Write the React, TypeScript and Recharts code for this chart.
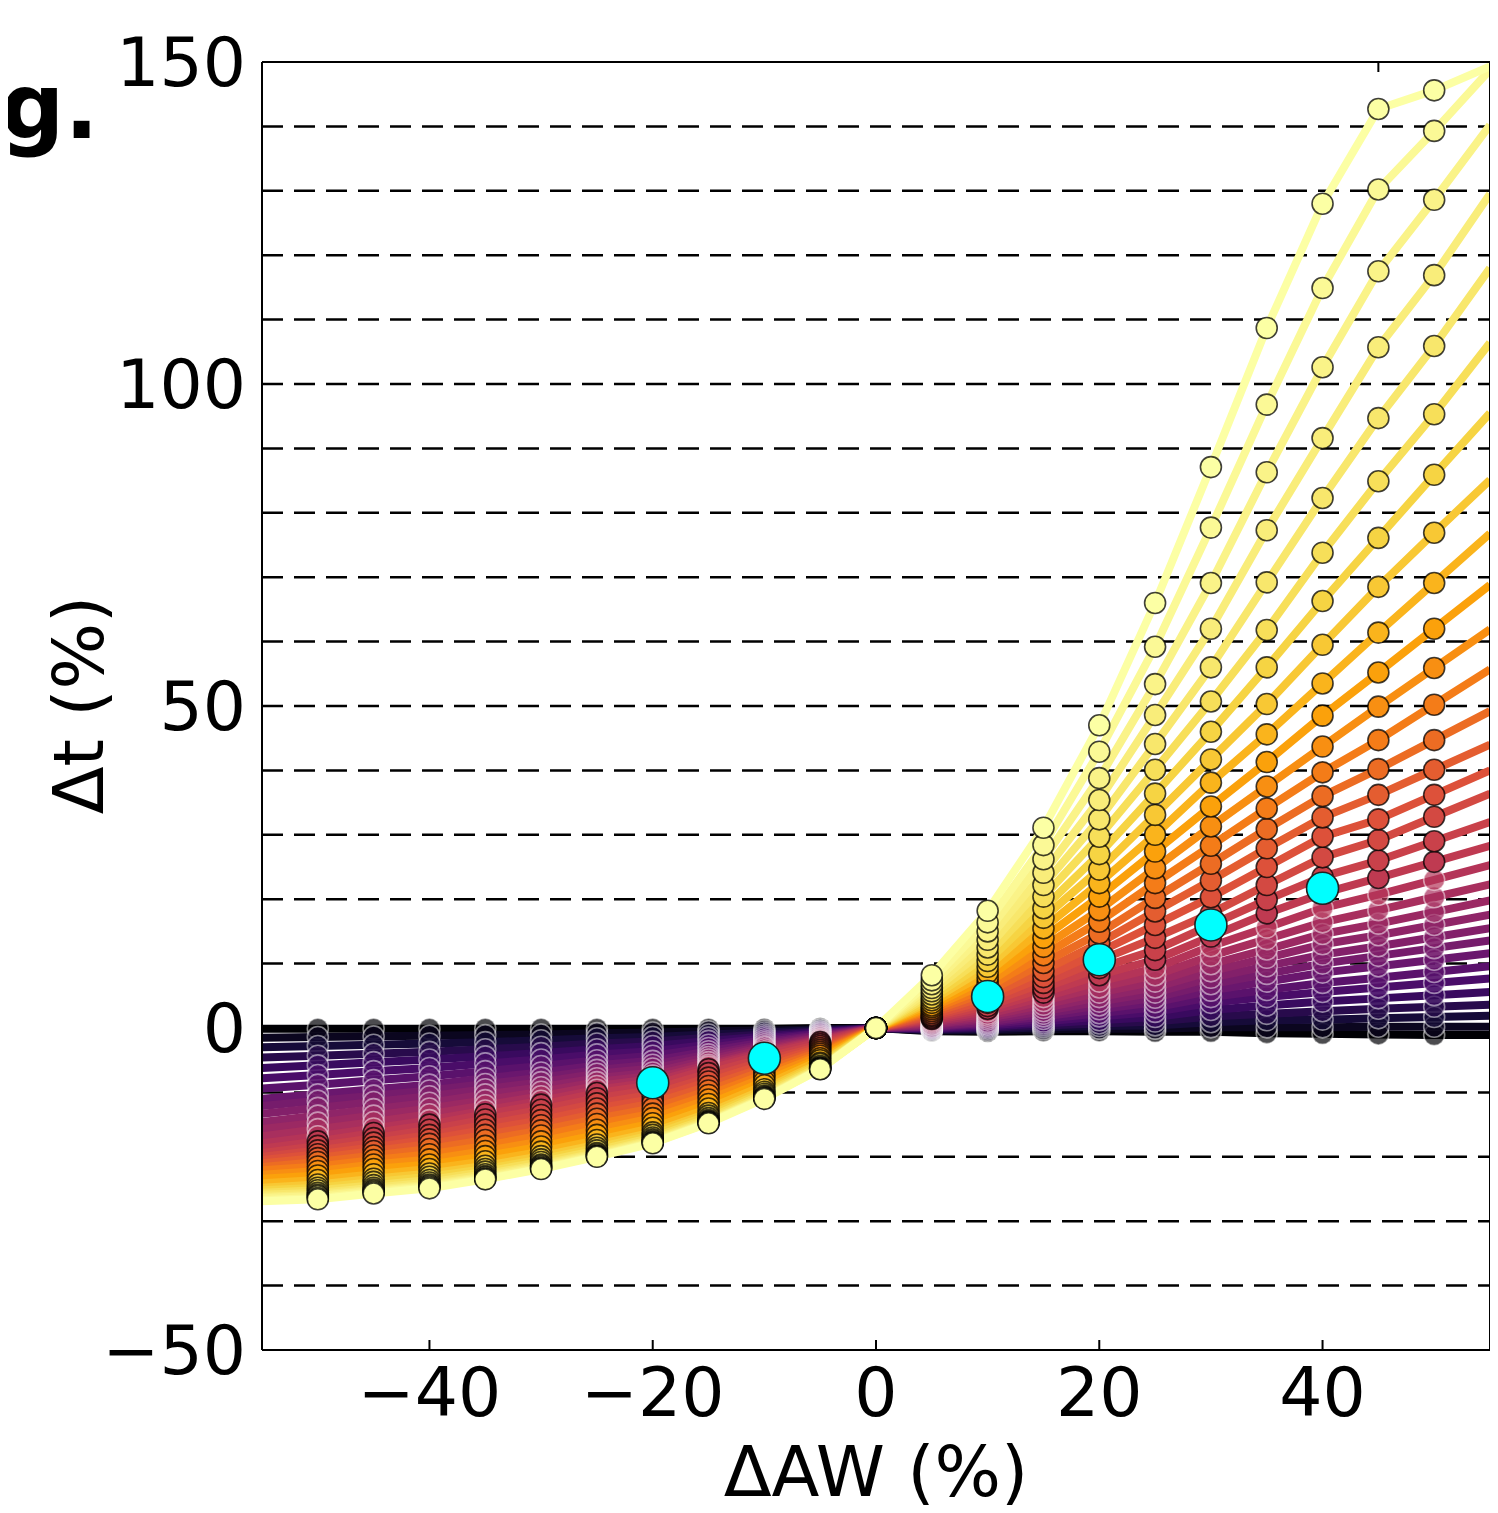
import React from 'react';
import { ComposedChart, Line, Scatter, XAxis, YAxis, CartesianGrid } from 'recharts';

// x positions of the samples (line ends at the plot edges, markers at -50..50)
const xValues = [-55, -50, -45, -40, -35, -30, -25, -20, -15, -10, -5, 0, 5, 10, 15, 20, 25, 30, 35, 40, 45, 50, 55];

// each column: values of the 32 curves at that x, from the darkest curve (index 0) to the brightest (index 31)
const colM55 = [-0.1, -1.5, -3.0, -4.6, -6.2, -7.8, -9.4, -11.0, -12.1, -13.3, -14.6, -15.7, -16.8, -17.9, -18.7, -19.4, -20.0, -20.5, -21.0, -21.6, -22.1, -22.8, -23.4, -24.1, -24.8, -25.2, -25.6, -25.9, -26.2, -26.4, -26.7, -26.9];
const colM50 = [-0.1, -1.4, -2.8, -4.3, -5.8, -7.3, -8.8, -10.3, -11.3, -12.4, -13.6, -14.7, -15.7, -16.8, -17.6, -18.3, -19.0, -19.6, -20.2, -20.8, -21.5, -22.2, -22.9, -23.6, -24.3, -24.8, -25.2, -25.6, -25.9, -26.1, -26.4, -26.6];
const colM45 = [-0.1, -1.3, -2.6, -4.0, -5.3, -6.7, -8.1, -9.5, -10.5, -11.5, -12.6, -13.6, -14.6, -15.6, -16.3, -17.1, -17.8, -18.5, -19.1, -19.8, -20.5, -21.2, -21.9, -22.7, -23.4, -23.9, -24.4, -24.8, -25.1, -25.3, -25.5, -25.7];
const colM40 = [-0.1, -1.2, -2.4, -3.7, -4.9, -6.2, -7.5, -8.8, -9.7, -10.6, -11.6, -12.5, -13.4, -14.3, -15.0, -15.8, -16.6, -17.3, -18.0, -18.8, -19.6, -20.4, -21.2, -21.9, -22.6, -23.1, -23.6, -24.0, -24.3, -24.5, -24.7, -24.9];
const colM35 = [-0.1, -1.1, -2.2, -3.3, -4.4, -5.5, -6.7, -7.8, -8.7, -9.5, -10.3, -11.2, -12.0, -12.8, -13.4, -14.2, -15.0, -15.8, -16.6, -17.4, -18.3, -19.1, -19.9, -20.7, -21.4, -21.9, -22.3, -22.7, -23.0, -23.2, -23.4, -23.5];
const colM30 = [-0.1, -1.0, -1.9, -2.9, -3.9, -4.9, -5.9, -6.9, -7.7, -8.4, -9.2, -9.9, -10.6, -11.3, -11.9, -12.7, -13.5, -14.3, -15.1, -15.9, -16.7, -17.6, -18.4, -19.2, -19.9, -20.4, -20.8, -21.2, -21.4, -21.6, -21.8, -21.9];
const colM25 = [-0.1, -0.8, -1.6, -2.4, -3.3, -4.1, -5.0, -5.8, -6.5, -7.1, -7.8, -8.4, -9.0, -9.6, -10.1, -10.9, -11.7, -12.5, -13.3, -14.1, -14.9, -15.8, -16.6, -17.4, -18.1, -18.6, -19.0, -19.4, -19.6, -19.8, -19.9, -20.0];
const colM20 = [-0.1, -0.7, -1.4, -2.1, -2.8, -3.6, -4.3, -5.1, -5.7, -6.3, -6.9, -7.4, -7.9, -8.4, -8.9, -9.6, -10.3, -11.0, -11.7, -12.5, -13.3, -14.0, -14.8, -15.5, -16.2, -16.6, -17.0, -17.3, -17.5, -17.7, -17.8, -17.9];
const colM15 = [-0.1, -0.5, -1.0, -1.5, -2.0, -2.6, -3.1, -3.6, -4.1, -4.5, -4.9, -5.3, -5.7, -6.0, -6.4, -7.0, -7.7, -8.3, -9.0, -9.7, -10.4, -11.1, -11.8, -12.5, -13.2, -13.6, -14.0, -14.3, -14.5, -14.6, -14.7, -14.8];
const colM10 = [-0.1, -0.4, -0.7, -1.0, -1.3, -1.6, -1.9, -2.2, -2.5, -2.8, -3.0, -3.3, -3.6, -3.8, -4.1, -4.6, -5.1, -5.6, -6.1, -6.6, -7.2, -7.7, -8.3, -8.9, -9.5, -9.9, -10.2, -10.5, -10.7, -10.8, -10.9, -11.0];
const colM5 = [0.0, -0.2, -0.3, -0.5, -0.6, -0.8, -0.9, -1.1, -1.2, -1.4, -1.5, -1.7, -1.8, -2.0, -2.2, -2.5, -2.8, -3.1, -3.4, -3.7, -4.0, -4.3, -4.7, -5.0, -5.4, -5.6, -5.9, -6.1, -6.2, -6.3, -6.35, -6.4];
const col0 = [0, 0, 0, 0, 0, 0, 0, 0, 0, 0, 0, 0, 0, 0, 0, 0, 0, 0, 0, 0, 0, 0, 0, 0, 0, 0, 0, 0, 0, 0, 0, 0];
const col5 = [-0.5, -0.4, -0.3, -0.2, -0.1, 0.0, 0.1, 0.2, 0.3, 0.5, 0.6, 0.8, 1.0, 1.2, 1.4, 1.6, 1.8, 2.0, 2.3, 2.6, 2.9, 3.2, 3.5, 3.9, 4.3, 4.7, 5.2, 5.7, 6.2, 6.8, 7.4, 8.2];
const col10 = [-0.6, -0.4, -0.2, 0.0, 0.2, 0.4, 0.6, 0.8, 1.0, 1.3, 1.6, 1.9, 2.2, 2.6, 3.0, 3.4, 3.9, 4.4, 5.0, 5.6, 6.3, 7.0, 7.8, 8.6, 9.5, 10.4, 11.4, 12.5, 13.7, 15.0, 16.4, 18.2];
const col15 = [-0.5, -0.2, 0.1, 0.4, 0.7, 1.0, 1.4, 1.8, 2.2, 2.6, 3.1, 3.6, 4.2, 4.8, 5.5, 6.2, 7.0, 7.9, 8.9, 10.1, 11.3, 12.6, 14.0, 15.5, 17.1, 18.6, 20.4, 22.2, 24.1, 26.2, 28.4, 31.1];
const col20 = [-0.5, -0.1, 0.3, 0.7, 1.2, 1.8, 2.3, 2.9, 3.5, 4.1, 4.8, 5.5, 6.3, 7.2, 8.2, 9.3, 10.5, 11.8, 13.2, 14.7, 16.5, 18.3, 20.4, 22.5, 24.6, 27.0, 29.7, 32.4, 35.4, 38.8, 42.9, 47.0];
const col25 = [-0.6, -0.1, 0.4, 1.0, 1.7, 2.5, 3.2, 4.0, 4.7, 5.5, 6.3, 7.2, 8.2, 9.3, 10.6, 12.1, 14.0, 16.0, 18.1, 20.2, 22.5, 24.8, 27.4, 30.0, 33.1, 36.4, 40.1, 44.1, 48.6, 53.4, 59.2, 66.0];
const col30 = [-0.6, 0.1, 0.9, 1.8, 2.8, 3.9, 4.8, 5.8, 6.8, 7.8, 8.8, 9.9, 11.2, 12.7, 14.2, 16.0, 17.8, 20.3, 22.9, 25.5, 28.3, 31.3, 34.4, 38.1, 41.7, 46.0, 50.7, 56.0, 62.0, 69.1, 77.7, 87.1];
const col35 = [-0.8, 0.1, 1.2, 2.2, 3.5, 4.8, 5.9, 7.2, 8.4, 9.6, 10.9, 12.2, 13.8, 15.6, 17.8, 19.9, 22.2, 25.0, 27.9, 30.9, 34.1, 37.5, 41.3, 45.6, 50.3, 56.0, 61.8, 69.2, 77.3, 86.3, 96.8, 108.7];
const col40 = [-0.9, 0.1, 1.3, 2.6, 4.1, 5.6, 7.0, 8.6, 10.0, 11.4, 13.0, 14.6, 16.4, 18.6, 20.9, 23.5, 26.5, 29.7, 32.7, 36.0, 39.7, 43.7, 48.5, 53.5, 59.5, 66.3, 73.8, 82.3, 91.6, 102.6, 114.9, 128.0];
const col45 = [-1.0, 0.2, 1.5, 3.0, 4.6, 6.3, 7.8, 9.6, 11.2, 12.7, 14.4, 16.2, 18.3, 20.7, 23.3, 26.0, 29.2, 32.4, 36.2, 40.2, 44.7, 49.9, 55.2, 61.4, 68.5, 76.1, 84.9, 94.7, 105.7, 117.5, 130.2, 142.7];
const col50 = [-1.1, 0.2, 1.7, 3.3, 5.1, 7.0, 8.7, 10.6, 12.4, 14.1, 16.0, 18.0, 20.3, 23.0, 25.8, 29.0, 32.8, 36.2, 40.1, 44.7, 50.2, 55.9, 62.0, 69.1, 76.9, 85.9, 95.3, 105.9, 116.9, 128.6, 139.3, 145.6];
const col55 = [-1.1, 0.2, 1.9, 3.6, 5.6, 7.7, 9.6, 11.6, 13.6, 15.5, 17.6, 19.8, 22.3, 25.3, 28.3, 32.0, 36.4, 40.0, 44.0, 49.2, 55.7, 61.9, 68.8, 76.8, 85.1, 95.5, 106.4, 118.0, 129.5, 140.2, 148.8, 149.3];

const columns = [colM55, colM50, colM45, colM40, colM35, colM30, colM25, colM20, colM15, colM10, colM5, col0, col5, col10, col15, col20, col25, col30, col35, col40, col45, col50, col55];

// colormap position of each curve
const lineLevels = [0, 0.05, 0.1, 0.14, 0.18, 0.22, 0.26, 0.3, 0.33, 0.36, 0.39, 0.42, 0.45, 0.48, 0.51, 0.54, 0.57, 0.6, 0.63, 0.67, 0.71, 0.75, 0.79, 0.83, 0.87, 0.895, 0.92, 0.94, 0.955, 0.97, 0.985, 1.0];

// highlighted points
const cyanX = [-20, -10, 10, 20, 30, 40];
const cyanY = [-8.5, -4.7, 4.9, 10.6, 16.0, 21.7];

const xTicks = [-40, -20, 0, 20, 40];
const yTicks = [-50, 0, 50, 100, 150];
const gridValues = [-40, -30, -20, -10, 0, 10, 20, 30, 40, 50, 60, 70, 80, 90, 100, 110, 120, 130, 140];

const INFERNO = ['#000004', '#160b39', '#420a68', '#6a176e', '#932667', '#bc3754', '#dd513a', '#f37819', '#fca50a', '#f6d746', '#fcffa4'];
function hexToRgb(h: string) {
  return [parseInt(h.slice(1, 3), 16), parseInt(h.slice(3, 5), 16), parseInt(h.slice(5, 7), 16)];
}
function inferno(t: number) {
  const s = Math.max(0, Math.min(1, t)) * (INFERNO.length - 1);
  const i = Math.min(INFERNO.length - 2, Math.floor(s));
  const f = s - i;
  const a = hexToRgb(INFERNO[i]);
  const b = hexToRgb(INFERNO[i + 1]);
  const c = a.map((v, k) => Math.round(v + (b[k] - v) * f));
  return `rgb(${c[0]},${c[1]},${c[2]})`;
}

const lineColors = lineLevels.map(inferno);

const tableData = xValues.map((x, j) => {
  const row: Record<string, number> = { x };
  columns[j].forEach((v, i) => {
    row['l' + i] = v;
  });
  return row;
});
const cyanData = cyanX.map((x, i) => ({ x, y: cyanY[i] }));

const W = 1498;
const H = 1513;
const PL = 262;
const PT = 62;
const PR = 1490;
const PB = 1350;
const AX = 40; // size reserved for each axis
const FONT = 'DejaVu Sans';

const fmt = (v: number) => (v < 0 ? '\u2212' + Math.abs(v) : String(v));

const makeDot = (color: string, level: number, id: number) => (props: any) => {
  const { cx, cy, payload, index } = props;
  const k = `d-${id}-${index}`;
  if (!payload || Math.abs(payload.x) > 52 || cx == null || cy == null) return <g key={k} />;
  const faded = level < 0.5;
  return (
    <circle
      key={k}
      cx={cx}
      cy={cy}
      r={10.5}
      fill={color}
      fillOpacity={faded ? 0.7 : 1}
      stroke={faded ? '#ffffff' : '#000'}
      strokeOpacity={faded ? 0.5 : 0.75}
      strokeWidth={1.6}
    />
  );
};

const BottomTick = (props: any) => {
  const { x, payload } = props;
  return (
    <g>
      <line x1={x} x2={x} y1={PB} y2={PB - 10} stroke="#000" strokeWidth={2} />
      <text x={x} y={PB + 66} textAnchor="middle" fontSize={68} fontFamily={FONT} fill="#000">
        {fmt(payload.value)}
      </text>
    </g>
  );
};
const TopTick = (props: any) => {
  const { x } = props;
  return <line x1={x} x2={x} y1={PT} y2={PT + 10} stroke="#000" strokeWidth={2} />;
};
const LeftTick = (props: any) => {
  const { y, payload } = props;
  return (
    <g>
      <line x1={PL} x2={PL + 10} y1={y} y2={y} stroke="#000" strokeWidth={2} />
      <text x={PL - 16} y={y + 24} textAnchor="end" fontSize={68} fontFamily={FONT} fill="#000">
        {fmt(payload.value)}
      </text>
    </g>
  );
};
const RightTick = (props: any) => {
  const { y } = props;
  return <line x1={PR} x2={PR - 10} y1={y} y2={y} stroke="#000" strokeWidth={2} />;
};

const CyanShape = (props: any) => (
  <circle cx={props.cx} cy={props.cy} r={16} fill="#00ffff" stroke="#222" strokeWidth={1.6} />
);

export default function App() {
  return (
    <div style={{ marginLeft: -8, marginTop: -8, width: W, height: H, position: 'relative', background: '#fff' }}>
      <ComposedChart
        width={W}
        height={H}
        data={tableData}
        margin={{ top: PT - AX, left: PL - AX, right: W - PR - 4, bottom: H - PB - AX }}
      >
        <CartesianGrid
          vertical={false}
          horizontalValues={gridValues}
          stroke="#000"
          strokeWidth={2.5}
          strokeDasharray="21 11"
        />
        {lineLevels.map((lv, i) => (
          <Line
            key={'line' + i}
            dataKey={'l' + i}
            type="linear"
            stroke={lineColors[i]}
            strokeWidth={8}
            strokeLinejoin="round"
            dot={makeDot(lineColors[i], lv, i)}
            activeDot={false}
            isAnimationActive={false}
            legendType="none"
          />
        ))}
        <Scatter data={cyanData} dataKey="y" shape={CyanShape} isAnimationActive={false} />
        <XAxis
          dataKey="x"
          type="number"
          domain={[-55, 55]}
          ticks={xTicks}
          interval={0}
          allowDataOverflow
          height={AX}
          tickLine={false}
          tick={BottomTick}
          axisLine={{ stroke: '#000', strokeWidth: 2 }}
        />
        <XAxis
          xAxisId="top"
          orientation="top"
          type="number"
          domain={[-55, 55]}
          ticks={xTicks}
          interval={0}
          height={AX}
          tickLine={false}
          tick={TopTick}
          axisLine={{ stroke: '#000', strokeWidth: 2 }}
        />
        <YAxis
          type="number"
          domain={[-50, 150]}
          ticks={yTicks}
          interval={0}
          allowDataOverflow
          width={AX}
          tickLine={false}
          tick={LeftTick}
          axisLine={{ stroke: '#000', strokeWidth: 2 }}
        />
        <YAxis
          yAxisId="right"
          orientation="right"
          type="number"
          domain={[-50, 150]}
          ticks={yTicks}
          interval={0}
          width={4}
          tickLine={false}
          tick={RightTick}
          axisLine={{ stroke: '#000', strokeWidth: 2 }}
        />
      </ComposedChart>
      <svg width={W} height={H} style={{ position: 'absolute', left: 0, top: 0, pointerEvents: 'none' }}>
        <text x={0} y={138} fontSize={90} fontWeight="bold" fontFamily={FONT} fill="#000">
          g.
        </text>
        <text x={876} y={1496} textAnchor="middle" fontSize={70} fontFamily={FONT} fill="#000">
          ΔAW (%)
        </text>
        <text
          x={103}
          y={705}
          textAnchor="middle"
          fontSize={70}
          fontFamily={FONT}
          fill="#000"
          transform="rotate(-90, 103, 705)"
        >
          Δt (%)
        </text>
      </svg>
    </div>
  );
}
